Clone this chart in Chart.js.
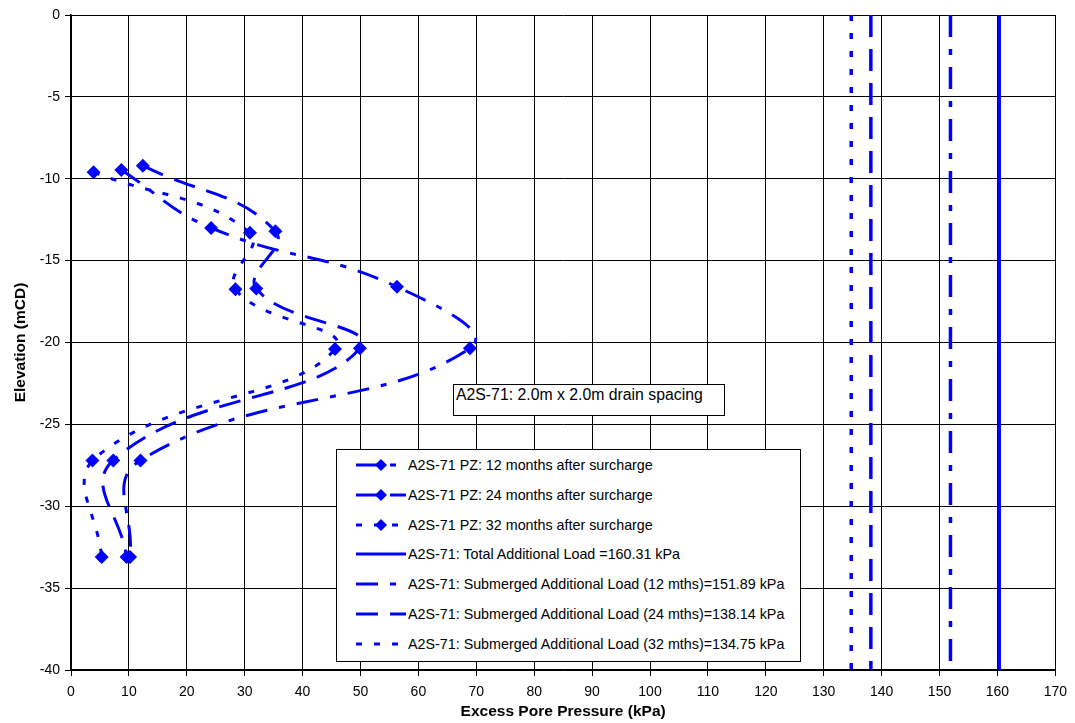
<!DOCTYPE html>
<html>
<head>
<meta charset="utf-8">
<title>A2S-71 excess pore pressure</title>
<script src="https://cdn.jsdelivr.net/npm/chart.js@4.4.0/dist/chart.umd.min.js"></script>
<style>
    body { margin: 0; background: #fff; }
    #wrap { position: relative; width: 1075px; height: 723px; font-family: "Liberation Sans", Arial, sans-serif; color: #000; }
    #chart { position: absolute; left: 0; top: 0; }
    #note { position: absolute; left: 453px; top: 384px; width: 272px; height: 32px; border: 1px solid #000; background: #fff;
            box-sizing: border-box; font-size: 15.8px; padding: 1px 0 0 2px; white-space: nowrap; }
    #legend { position: absolute; left: 336px; top: 449px; width: 465px; height: 213px; border: 1.5px solid #000; background: #fff;
              box-sizing: border-box; font-size: 14.3px; }
    .row { position: absolute; left: 0; height: 20px; display: flex; align-items: center; white-space: nowrap; }
    .row svg { margin-left: 19px; margin-right: 2px; }
</style>
</head>
<body>
<div id="wrap">
    <canvas id="chart" width="1075" height="723"></canvas>
    <div id="note">A2S-71: 2.0m x 2.0m drain spacing</div>
    <div id="legend"></div>
</div>
<script>
// piezometer readings (x = excess pore pressure kPa, y = elevation mCD)
const pz12x = [8.7, 24.2, 56.3, 68.9, 12.0, 10.2];
const pz12y = [-9.47, -13.0, -16.6, -20.35, -27.2, -33.1];
const pz24x = [12.4, 35.3, 32.0, 49.9, 7.3, 9.6];
const pz24y = [-9.2, -13.2, -16.7, -20.35, -27.2, -33.1];
const pz32x = [3.9, 30.9, 28.4, 45.6, 3.7, 5.3];
const pz32y = [-9.6, -13.3, -16.75, -20.4, -27.2, -33.1];

const pzNames = [
    'A2S-71 PZ: 12 months after surcharge',
    'A2S-71 PZ: 24 months after surcharge',
    'A2S-71 PZ: 32 months after surcharge'
];

// load lines
const loadNames = [
    'A2S-71: Total Additional Load =160.31 kPa',
    'A2S-71: Submerged Additional Load (12 mths)=151.89 kPa',
    'A2S-71: Submerged Additional Load (24 mths)=138.14 kPa',
    'A2S-71: Submerged Additional Load (32 mths)=134.75 kPa'
];
const loadValues = [160.31, 151.89, 138.14, 134.75];
const elevTop = 0;
const elevBottom = -40;

const xTicks = [0, 10, 20, 30, 40, 50, 60, 70, 80, 90, 100, 110, 120, 130, 140, 150, 160, 170];
const yTicks = [0, -5, -10, -15, -20, -25, -30, -35, -40];

const BLUE = '#0000ff';
const DASH_DOT = [22, 12, 6, 12];
const LONG_DASH = [22, 12];
const DOTS = [6, 12];

function toPoints(xs, ys) {
    return xs.map((x, i) => ({ x: x, y: ys[i] }));
}

const pzStyles = [DASH_DOT, LONG_DASH, DOTS];
const pzData = [toPoints(pz12x, pz12y), toPoints(pz24x, pz24y), toPoints(pz32x, pz32y)];
const loadStyles = [[], DASH_DOT, LONG_DASH, DOTS];

const datasets = [];
pzNames.forEach((name, i) => {
    datasets.push({
        label: name,
        data: pzData[i],
        showLine: true,
        borderColor: BLUE,
        backgroundColor: BLUE,
        borderWidth: 3,
        borderDash: pzStyles[i],
        tension: 0.45,
        pointStyle: 'rectRot',
        pointRadius: 7,
        pointHoverRadius: 7,
        pointBorderWidth: 0
    });
});
loadNames.forEach((name, i) => {
    datasets.push({
        label: name,
        data: [{ x: loadValues[i], y: elevTop }, { x: loadValues[i], y: elevBottom }],
        showLine: true,
        borderColor: BLUE,
        backgroundColor: BLUE,
        borderWidth: 3.5,
        borderDash: loadStyles[i],
        pointRadius: 0
    });
});

const tickFont = { family: "'Liberation Sans', Arial, sans-serif", size: 14 };
const titleFont = { family: "'Liberation Sans', Arial, sans-serif", size: 15.5, weight: 'bold' };

new Chart(document.getElementById('chart'), {
    type: 'scatter',
    data: { datasets: datasets },
    options: {
        responsive: false,
        devicePixelRatio: 1,
        animation: false,
        layout: { padding: { left: 0, right: 19, top: 15, bottom: 0 } },
        plugins: {
            legend: { display: false },
            tooltip: { enabled: false }
        },
        scales: {
            x: {
                type: 'linear',
                min: 0,
                max: 170,
                afterBuildTicks: axis => { axis.ticks = xTicks.map(v => ({ value: v })); },
                afterFit: axis => { axis.height = 53; },
                ticks: { color: '#000', font: tickFont, padding: 8, maxRotation: 0 },
                grid: { color: '#000', lineWidth: 1, tickLength: 6, tickColor: '#000' },
                border: { color: '#000', width: 1.5 },
                title: { display: true, text: 'Excess Pore Pressure (kPa)', color: '#000', font: titleFont, padding: { top: 5, bottom: 2 } }
            },
            y: {
                type: 'linear',
                min: -40,
                max: 0,
                afterBuildTicks: axis => { axis.ticks = yTicks.map(v => ({ value: v })); },
                afterFit: axis => { axis.width = 71; },
                ticks: { color: '#000', font: tickFont, padding: 5 },
                grid: { color: '#000', lineWidth: 1, tickLength: 6, tickColor: '#000' },
                border: { color: '#000', width: 1.5 },
                title: { display: true, text: 'Elevation (mCD)', color: '#000', font: titleFont, padding: { top: 11, bottom: 2 } }
            }
        }
    }
});

// legend box drawn as html so the text stays text
function sampleSvg(dash, marker) {
    const ns = 'http://www.w3.org/2000/svg';
    const svg = document.createElementNS(ns, 'svg');
    svg.setAttribute('width', 50);
    svg.setAttribute('height', 16);
    const line = document.createElementNS(ns, 'line');
    line.setAttribute('x1', 0);
    line.setAttribute('x2', 50);
    line.setAttribute('y1', 8);
    line.setAttribute('y2', 8);
    line.setAttribute('stroke', BLUE);
    line.setAttribute('stroke-width', 3);
    if (dash.length) line.setAttribute('stroke-dasharray', dash.join(' '));
    svg.appendChild(line);
    if (marker) {
        const d = document.createElementNS(ns, 'polygon');
        d.setAttribute('points', '25,2 31,8 25,14 19,8');
        d.setAttribute('fill', BLUE);
        svg.appendChild(d);
    }
    return svg;
}

const legendBox = document.getElementById('legend');
const legendItems = pzNames.map((n, i) => [n, pzStyles[i], true])
    .concat(loadNames.map((n, i) => [n, loadStyles[i], false]));
legendItems.forEach((item, i) => {
    const row = document.createElement('div');
    row.className = 'row';
    row.style.top = (5 + i * 29.8) + 'px';
    row.appendChild(sampleSvg(item[1], item[2]));
    const span = document.createElement('span');
    span.textContent = item[0];
    row.appendChild(span);
    legendBox.appendChild(row);
});
</script>
</body>
</html>
